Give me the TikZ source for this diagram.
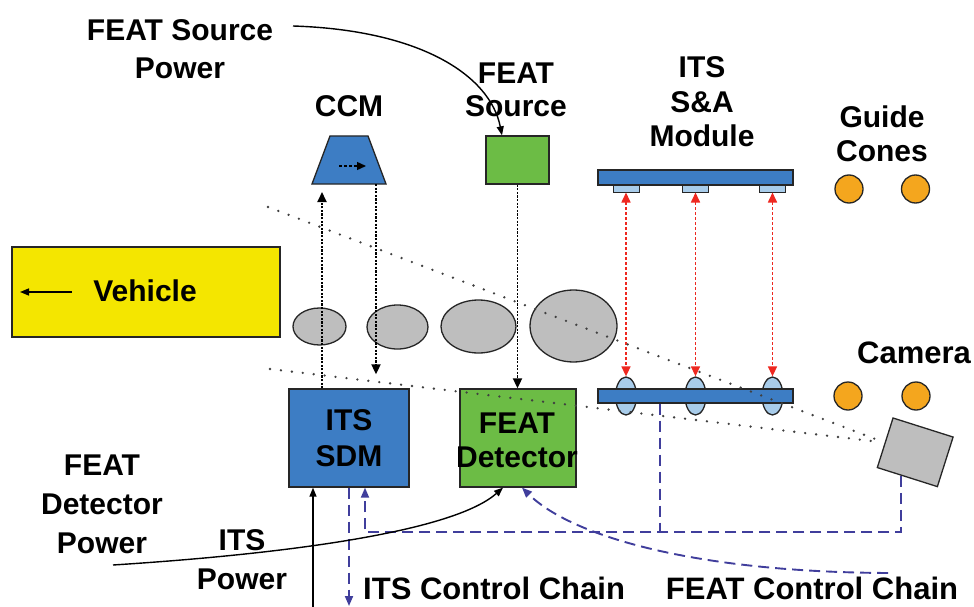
\documentclass[tikz,border=0pt]{standalone}
\usepackage{fontspec}
\setmainfont{Liberation Sans}
\usetikzlibrary{arrows.meta,shapes.geometric,calc}
\definecolor{boxblue}{RGB}{61,125,196}
\definecolor{boxgreen}{RGB}{108,188,69}
\definecolor{vyellow}{RGB}{244,230,0}
\definecolor{wgray}{RGB}{190,190,190}
\definecolor{lblue}{RGB}{168,204,234}
\definecolor{cone}{RGB}{244,166,30}
\definecolor{ctlblue}{RGB}{64,62,156}
\definecolor{sared}{RGB}{238,40,32}
\begin{document}
\begin{tikzpicture}[x=1pt,y=-1pt,
  lbl/.style={font=\fontsize{30}{#1}\selectfont\bfseries, align=center, inner sep=0pt},
  lbl/.default=36,
  shp/.style={draw=black!85, line width=1.3pt, inner sep=0pt},
  tip/.style={-{Triangle[length=9pt,width=7pt]}},
  blkdot/.style={line width=1.8pt, dash pattern=on 2.2pt off 1.4pt, -{Triangle[length=10pt,width=9pt]}},
  redarr/.style={draw=sared, line width=1.6pt, dash pattern=on 3pt off 2pt,
    {Triangle[length=10pt,width=9pt]}-{Triangle[length=10pt,width=9pt]}},
  ctl/.style={draw=ctlblue, line width=1.9pt, dash pattern=on 11pt off 6pt},
  ctip/.style={-{Triangle[length=10pt,width=8pt]}},
  fov/.style={draw=black!75, line width=2.6pt, line cap=round, dash pattern=on 0pt off 11pt}]
\useasboundingbox (0,0) rectangle (974,607);

% labels
\node[lbl=38] (fsplbl) at (180,49) {FEAT Source\\Power};
\node[lbl] (ccmlbl) at (349,106) {CCM};
\node[lbl=33] (srclbl) at (516,89.5) {FEAT\\Source};
\node[lbl=34.5] (salbl) at (702,102) {ITS\\S\&A\\Module};
\node[lbl=34] (gclbl) at (882,134) {Guide\\Cones};
\node[lbl, anchor=west, font=\fontsize{31}{36}\selectfont\bfseries] (camlbl) at (857,353) {Camera};
\node[lbl=39] (fdplbl) at (102,504) {FEAT\\Detector\\Power};
\node[lbl=39] (itsplbl) at (242,559.5) {ITS\\Power};
\node[lbl, anchor=west, font=\fontsize{31}{36}\selectfont\bfseries] (iccl) at (363,588) {ITS Control Chain};
\node[lbl, font=\fontsize{31}{36}\selectfont\bfseries] (fccl) at (812,588) {FEAT Control Chain};

% vehicle
\node[shp, fill=vyellow, minimum width=268pt, minimum height=90pt] (veh) at (146,292) {};
\node[lbl] (vehlbl) at (145,291) {Vehicle};
\coordinate (vaS) at (72,292);
\coordinate (vaE) at (20,292);
\draw[line width=1.5pt, tip] (vaS) -- (vaE);

% wheels / objects
\node[shp, ellipse, fill=wgray, minimum width=53pt, minimum height=37pt] (w1) at (319.5,326.5) {};
\node[shp, ellipse, fill=wgray, minimum width=61pt, minimum height=44pt] (w2) at (397.5,327) {};
\node[shp, ellipse, fill=wgray, minimum width=75pt, minimum height=53pt] (w3) at (478.5,326.5) {};
\node[shp, ellipse, fill=wgray, minimum width=87pt, minimum height=72pt] (w4) at (573.5,326) {};

% CCM
\draw[shp, fill=boxblue] (312,184) -- (330,136) -- (368,136) -- (386,184) -- cycle;
\coordinate (ccmL) at (322,184);
\coordinate (ccmR) at (376,184);
\coordinate (ciA) at (339,166);
\coordinate (ciB) at (366,166);
\draw[line width=1.4pt, dash pattern=on 3pt off 2pt, -{Triangle[length=9pt,width=8pt]}] (ciA) -- (ciB);

% FEAT source
\node[shp, fill=boxgreen, minimum width=63pt, minimum height=48pt] (src) at (517.5,160) {};

% ITS S&A module (top)
\node[shp, line width=1pt, fill=lblue, minimum width=26pt, minimum height=7pt] (t1) at (626,188.5) {};
\node[shp, line width=1pt, fill=lblue, minimum width=26pt, minimum height=7pt] (t2) at (695.5,188.5) {};
\node[shp, line width=1pt, fill=lblue, minimum width=26pt, minimum height=7pt] (t3) at (772.5,188.5) {};
\node[shp, fill=boxblue, minimum width=195pt, minimum height=15pt] (tbar) at (695.5,177.5) {};

% bottom bar
\node[shp, ellipse, fill=lblue, minimum width=21pt, minimum height=38pt] (b1) at (626,396) {};
\node[shp, ellipse, fill=lblue, minimum width=21pt, minimum height=38pt] (b2) at (695.5,396) {};
\node[shp, ellipse, fill=lblue, minimum width=21pt, minimum height=38pt] (b3) at (772.5,396) {};
\node[shp, fill=boxblue, minimum width=195pt, minimum height=14pt] (bbar) at (695.5,396) {};

\draw[redarr] (t1.south) -- (b1.north);
\draw[redarr] (t2.south) -- (b2.north);
\draw[redarr] (t3.south) -- (b3.north);

% cones
\node[shp, circle, fill=cone, minimum size=28pt] (c1) at (849,189) {};
\node[shp, circle, fill=cone, minimum size=28pt] (c2) at (915.5,189) {};
\node[shp, circle, fill=cone, minimum size=28pt] (c3) at (848,396) {};
\node[shp, circle, fill=cone, minimum size=28pt] (c4) at (916,396) {};

% SDM and detector
\node[shp, fill=boxblue, minimum width=120pt, minimum height=98pt] (sdm) at (349,438) {};
\node[lbl] (sdmlbl) at (sdm) {ITS\\SDM};
\node[shp, fill=boxgreen, minimum width=116pt, minimum height=98pt] (det) at (518,438) {};
\node[lbl=34] (detlbl) at (517,440) {FEAT\\Detector};

% camera
\node[shp, fill=wgray, minimum width=63pt, minimum height=52pt, rotate=-17.6] (cam) at (915.2,452.3) {};

% black dotted arrows
\draw[blkdot, shorten >=8pt] (sdm.north -| ccmL) -- (ccmL);
\draw[blkdot, shorten >=14pt] (ccmR) -- (sdm.north -| ccmR);
\draw[blkdot] (src.south) -- (src.south |- det.north);

% field of view
\coordinate (fovA) at (268,207);
\coordinate (fovB) at (270,369);
\draw[fov, shorten >=6pt] (fovA) -- (cam.west);
\draw[fov, shorten >=6pt] (fovB) -- (cam.west);

% control chains
\coordinate (camB) at ($(cam.south west)!0.4!(cam.south east)$);
\coordinate (ctlc) at (365,532);
\coordinate (jn) at (660,532);
\coordinate (itsout) at (349,606);
\coordinate (fcc) at (888,573);
\draw[ctl, ctip] (camB) |- (ctlc) -- (ctlc |- sdm.south);
\draw[ctl] (bbar.south -| jn) -- (jn);
\draw[ctl, ctip] (sdm.south -| itsout) -- (itsout);
\draw[ctl, ctip] (fcc) .. controls (690,572) and (570,535) .. ([xshift=4pt]det.south);

% power lines
\coordinate (fsp) at (293,26);
\coordinate (fdp) at (113,565);
\coordinate (itspw) at (313,607);
\draw[line width=1.4pt, tip] (fsp) .. controls (420,30) and (490,75) .. ([xshift=-15.5pt]src.north);
\draw[line width=1.4pt, tip] (fdp) .. controls (300,553) and (455,530) .. ([xshift=-15pt]det.south);
\draw[line width=1.4pt, tip] (itspw) -- (itspw |- sdm.south);
\end{tikzpicture}
\end{document}
